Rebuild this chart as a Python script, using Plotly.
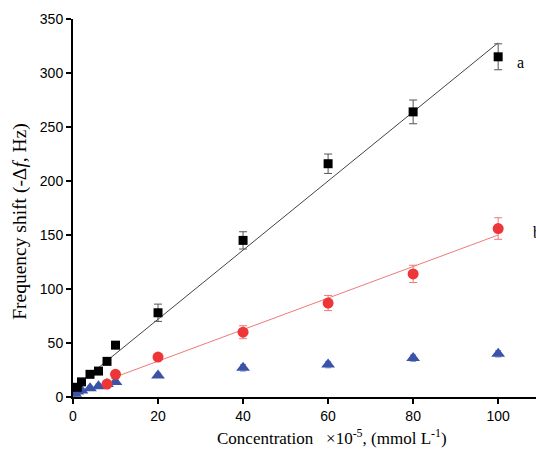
import plotly.graph_objects as go

# data
conc_a = [1, 2, 4, 6, 8, 10, 20, 40, 60, 80, 100]
shift_a = [9, 14, 21, 24, 33, 48, 78, 145, 216, 264, 315]
err_a = [1, 1, 1, 1, 1, 1, 8, 8, 9, 11, 12]

conc_b = [8, 10, 20, 40, 60, 80, 100]
shift_b = [12, 21, 37, 60, 87, 114, 156]
err_b = [1, 1, 3, 6, 7, 8, 10]

conc_c = [0.5, 1, 2, 4, 6, 8, 10, 20, 40, 60, 80, 100]
shift_c = [3, 5, 6, 8, 10, 12, 14, 20, 27, 30, 36, 40]
err_c = [2, 2, 2, 2, 2, 2, 2, 2, 3, 3, 3, 3]

# linear fit lines (slope, intercept, x start, x end)
fit_a = (3.2, 8, 0, 100)
fit_b = (1.46, 4, 9, 100)

fig = go.Figure()

for slope, icpt, x0, x1, col in [(*fit_a, '#444444'), (*fit_b, '#f27878')]:
    fig.add_trace(go.Scatter(
        x=[x0, x1], y=[icpt + slope * x0, icpt + slope * x1],
        mode='lines', line=dict(color=col, width=1), showlegend=False
    ))

fig.add_trace(go.Scatter(
    x=conc_c, y=shift_c, mode='markers',
    marker=dict(symbol='triangle-up', size=12, color='#3a52a8'),
    error_y=dict(type='data', array=err_c, color='#7f8fc8', thickness=1, width=3),
    showlegend=False
))
fig.add_trace(go.Scatter(
    x=conc_b, y=shift_b, mode='markers',
    marker=dict(symbol='circle', size=11, color='#ee3538'),
    error_y=dict(type='data', array=err_b, color='#f07a7a', thickness=1, width=4),
    showlegend=False
))
fig.add_trace(go.Scatter(
    x=conc_a, y=shift_a, mode='markers',
    marker=dict(symbol='square', size=9, color='black'),
    error_y=dict(type='data', array=err_a, color='#555555', thickness=1, width=4),
    showlegend=False
))

fig.add_annotation(x=104, y=310, text='a', showarrow=False, xanchor='left',
                   font=dict(family='Liberation Serif', size=16, color='black'))
fig.add_annotation(x=107.7, y=152, text='b', showarrow=False, xanchor='left',
                   font=dict(family='Liberation Serif', size=16, color='black'))
# axis titles
fig.add_annotation(x=0.56, y=-0.106, xref='paper', yref='paper',
                   xanchor='center', yanchor='middle',
                   text='Concentration\u00a0\u00a0\u00a0×10<sup>-5</sup>, (mmol L<sup>-1</sup>)',
                   showarrow=False,
                   font=dict(family='Liberation Serif', size=17, color='black'))
fig.add_annotation(x=-0.1145, y=0.466, xref='paper', yref='paper',
                   xanchor='center', yanchor='middle', textangle=-90,
                   text='Frequency shift (-Δ<i>f</i>, Hz)', showarrow=False,
                   font=dict(family='Liberation Serif', size=19.5, color='black'))

fig.update_layout(
    width=536, height=452,
    margin=dict(l=73, r=0, t=19, b=55),
    plot_bgcolor='white', paper_bgcolor='white',
    xaxis=dict(
        range=[0, 108.9], tickvals=[0, 20, 40, 60, 80, 100], automargin=False,
        showgrid=False, zeroline=False, showline=True, linecolor='black', linewidth=2,
        ticks='outside', ticklen=5, tickwidth=1.5, tickcolor='black',
        tickfont=dict(family='Liberation Sans', size=14, color='black'),
    ),
    yaxis=dict(
        range=[0, 350], tickvals=[0, 50, 100, 150, 200, 250, 300, 350], automargin=False,
        showgrid=False, zeroline=False, showline=True, linecolor='black', linewidth=2,
        ticks='outside', ticklen=5, tickwidth=1.5, tickcolor='black',
        tickfont=dict(family='Liberation Sans', size=14, color='black'),
    ),
)

# drop the page's default body margin so the figure fills the window
fig.write_html('out.html', config={'displayModeBar': False},
               post_script="document.body.style.margin='0';document.body.style.overflow='hidden';")
